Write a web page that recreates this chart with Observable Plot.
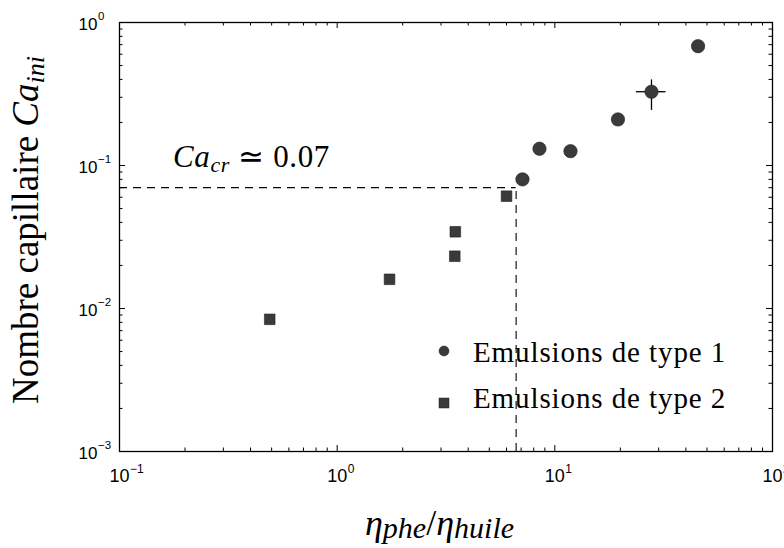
<!DOCTYPE html>
<html><head><meta charset="utf-8">
<script src="https://cdn.jsdelivr.net/npm/d3@7"></script>
<script src="https://cdn.jsdelivr.net/npm/@observablehq/plot@0.6"></script>
<style>body{margin:0;background:#fff;} svg{overflow:visible;}
.serif{font-family:'Liberation Serif','Times New Roman',serif !important;}</style>
</head><body><div id="chart"></div>
<script>
// Emulsions de type 1 (circles)
const type1X = [7.1, 8.5, 11.8, 19.5, 27.8, 45.5];
const type1Y = [0.080, 0.131, 0.126, 0.210, 0.328, 0.683];
// Emulsions de type 2 (squares)
const type2X = [0.49, 1.74, 3.47, 3.49, 6.0];
const type2Y = [0.0084, 0.016, 0.0232, 0.0344, 0.061];
// error bar on one type-1 point
const errPoint = [27.8, 0.328];
const errXRange = [23.7, 32.4];
const errYRange = [0.243, 0.397];
// critical values
const caCr = 0.07;
const ratioCr = 6.64;
// ticks
const xMajor = [0.1, 1, 10, 100];
const xExp = ["\u22121", "0", "1", "2"];
const yMajor = [0.001, 0.01, 0.1, 1];
const yExp = ["\u22123", "\u22122", "\u22121", "0"];
const xMinor = [0.2,0.3,0.4,0.5,0.6,0.7,0.8,0.9, 2,3,4,5,6,7,8,9, 20,30,40,50,60,70,80,90];
const yMinor = [0.002,0.003,0.004,0.005,0.006,0.007,0.008,0.009, 0.02,0.03,0.04,0.05,0.06,0.07,0.08,0.09, 0.2,0.3,0.4,0.5,0.6,0.7,0.8,0.9];
const legendLabels = ["Emulsions de type 1", "Emulsions de type 2"];

const W = 784, H = 548, mL = 119, mR = 12, mT = 22, mB = 97;
const pw = W - mL - mR, ph = H - mT - mB;
const majLen = 6, minLen = 3.5;
const markFill = "#3a3a3a";
const sans = "'Liberation Sans', Arial, sans-serif";

const t1 = type1X.map((x, i) => ({x, y: type1Y[i]}));
const t2 = type2X.map((x, i) => ({x, y: type2Y[i]}));

const chart = Plot.plot({
  width: W, height: H,
  marginLeft: mL, marginRight: mR, marginTop: mT, marginBottom: mB,
  style: {background: "#fff", overflow: "visible"},
  x: {type: "log", domain: [0.1, 100], axis: null},
  y: {type: "log", domain: [0.001, 1], axis: null},
  marks: [
    Plot.ruleX(xMajor, {x: d => d, insetTop: ph - majLen, stroke: "#000", strokeWidth: 1}),
    Plot.ruleX(xMajor, {x: d => d, insetBottom: ph - majLen, stroke: "#000", strokeWidth: 1}),
    Plot.ruleX(xMinor, {x: d => d, insetTop: ph - minLen, stroke: "#000", strokeWidth: 1}),
    Plot.ruleX(xMinor, {x: d => d, insetBottom: ph - minLen, stroke: "#000", strokeWidth: 1}),
    Plot.ruleY(yMajor, {y: d => d, insetRight: pw - majLen, stroke: "#000", strokeWidth: 1}),
    Plot.ruleY(yMajor, {y: d => d, insetLeft: pw - majLen, stroke: "#000", strokeWidth: 1}),
    Plot.ruleY(yMinor, {y: d => d, insetRight: pw - minLen, stroke: "#000", strokeWidth: 1}),
    Plot.ruleY(yMinor, {y: d => d, insetLeft: pw - minLen, stroke: "#000", strokeWidth: 1}),
    Plot.text(xMajor, {x: d => d, text: () => "10", frameAnchor: "bottom", lineAnchor: "bottom", dy: 30, fontSize: 18, fontFamily: sans, textAnchor: "middle", fill: "#000"}),
    Plot.text(xMajor, {x: d => d, text: (d, i) => xExp[i], frameAnchor: "bottom", lineAnchor: "bottom", dx: 10.5, dy: 21, fontSize: 12, fontFamily: sans, textAnchor: "start", fill: "#000"}),
    Plot.text(yMajor, {y: d => d, text: () => "10", frameAnchor: "left", lineAnchor: "bottom", dx: -22, dy: 7, fontSize: 17, fontFamily: sans, textAnchor: "end", fill: "#000"}),
    Plot.text(yMajor, {y: d => d, text: (d, i) => yExp[i], frameAnchor: "left", lineAnchor: "bottom", dx: -21.5, dy: -3, fontSize: 11.5, fontFamily: sans, textAnchor: "start", fill: "#000"}),
    Plot.ruleY([caCr], {y: d => d, x1: 0.1, x2: ratioCr, stroke: "#000", strokeWidth: 1.1, strokeDasharray: "8,6"}),
    Plot.ruleX([ratioCr], {x: d => d, y1: 0.001, y2: caCr, stroke: "#000", strokeWidth: 1.1, strokeDasharray: "8,6"}),
    Plot.ruleY([errPoint], {y: d => d[1], x1: errXRange[0], x2: errXRange[1], stroke: "#000", strokeWidth: 1.3}),
    Plot.ruleX([errPoint], {x: d => d[0], y1: errYRange[0], y2: errYRange[1], stroke: "#000", strokeWidth: 1.3}),
    Plot.dot(t2, {x: "x", y: "y", symbol: "square", r: 6.0, fill: markFill, stroke: "#222", strokeWidth: 0.6}),
    Plot.dot(t1, {x: "x", y: "y", symbol: "circle", r: 6.7, fill: markFill, stroke: "#222", strokeWidth: 0.6}),
    Plot.frame({stroke: "#000", strokeWidth: 1.3})
  ]
});
document.getElementById("chart").appendChild(chart);

const svg = d3.select(chart);

// annotation Ca_cr ≃ 0.07
const ann = svg.append("text").attr("class", "serif").attr("x", 173).attr("y", 167)
  .style("text-anchor", "start").style("font-size", "31px").style("letter-spacing", "0.6px").attr("fill", "#000");
ann.append("tspan").style("font-style", "italic").text("Ca");
ann.append("tspan").style("font-style", "italic").style("font-size", "22px").attr("dy", 5).text("cr");
ann.append("tspan").attr("dy", -5).text(" \u2243 0.07");

// legend
const lg = svg.append("g");
lg.append("circle").attr("cx", 444).attr("cy", 351).attr("r", 5).attr("fill", markFill).attr("stroke", "#222").attr("stroke-width", 0.5);
lg.append("rect").attr("x", 439).attr("y", 398).attr("width", 10).attr("height", 10).attr("fill", markFill).attr("stroke", "#222").attr("stroke-width", 0.5);
[362, 408].forEach((by, i) => {
  lg.append("text").attr("class", "serif").attr("x", 473).attr("y", by).style("text-anchor", "start")
    .style("font-size", "29px").style("letter-spacing", "0.9px").attr("fill", "#000").text(legendLabels[i]);
});

// y label
const yl = svg.append("text").attr("class", "serif").attr("transform", "translate(38,230) rotate(-90)")
  .style("text-anchor", "middle").style("font-size", "37px").attr("fill", "#000");
yl.append("tspan").text("Nombre capillaire ");
yl.append("tspan").style("font-style", "italic").text("Ca");
yl.append("tspan").style("font-style", "italic").style("font-size", "26px").attr("dy", 6).text("ini");

// x label
const xl = svg.append("text").attr("class", "serif").attr("x", 365).attr("y", 535).style("text-anchor", "start")
  .style("font-size", "36px").attr("fill", "#000");
xl.append("tspan").style("font-style", "italic").text("\u03B7");
xl.append("tspan").style("font-style", "italic").style("font-size", "30px").attr("dy", 3).text("phe");
xl.append("tspan").attr("dy", -3).text("/");
xl.append("tspan").style("font-style", "italic").text("\u03B7");
xl.append("tspan").style("font-style", "italic").style("font-size", "30px").attr("dy", 3).text("huile");
</script></body></html>
